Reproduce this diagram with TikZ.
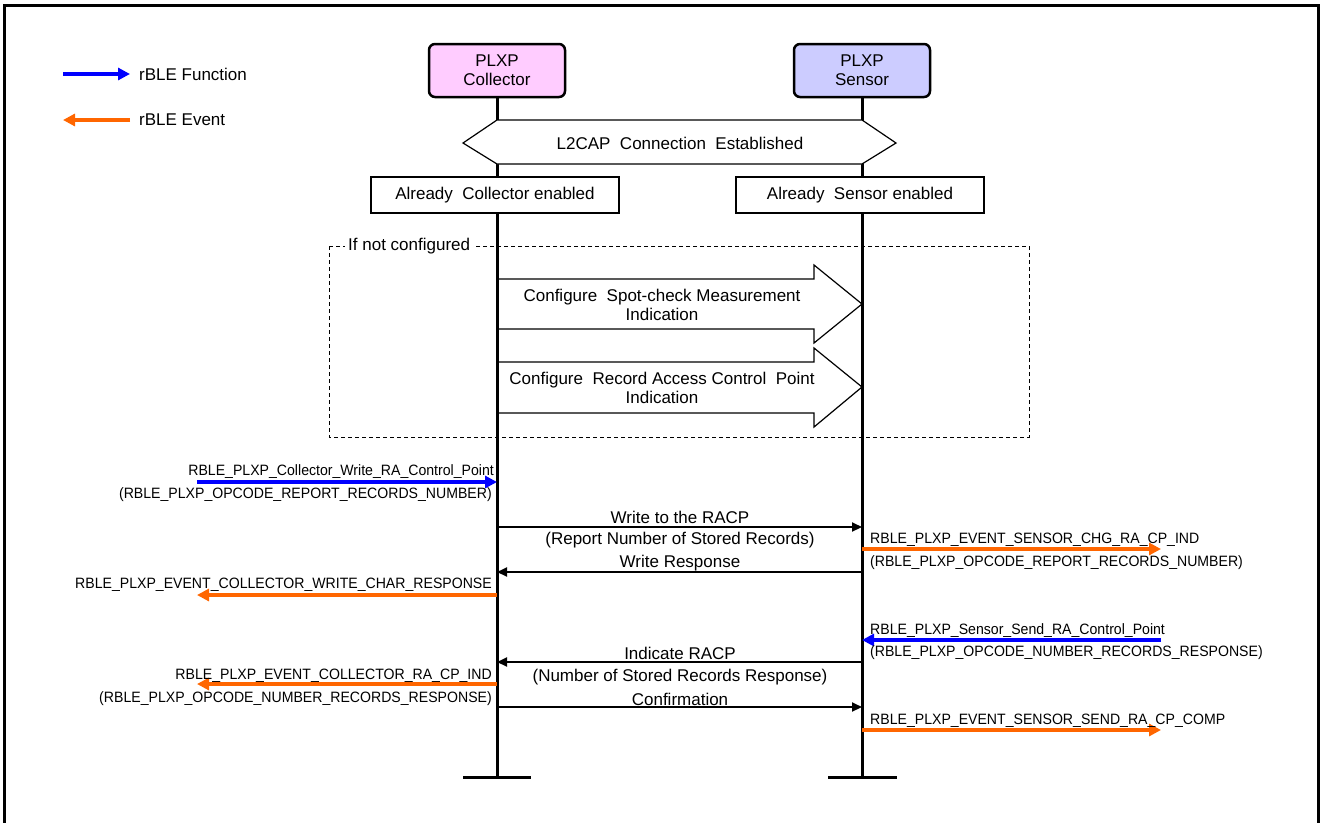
\documentclass[tikz,border=0pt]{standalone}
\usepackage{fontspec}
\setmainfont{Liberation Sans}
\newfontfamily\narrowfont[FakeStretch=0.94]{Liberation Sans}
\usetikzlibrary{arrows.meta}
\definecolor{rblue}{RGB}{0,0,255}
\definecolor{rorange}{RGB}{255,102,0}
\definecolor{cpink}{RGB}{255,204,255}
\definecolor{slav}{RGB}{204,204,255}
\begin{document}
\begin{tikzpicture}[x=1pt,y=-1pt,
  bigfont/.style={font=\fontsize{17pt}{19pt}\selectfont},
  smallfont/.style={font=\narrowfont\fontsize{15pt}{17pt}\selectfont},
  part/.style={draw, line width=2.5pt, rounded corners=6pt, minimum width=136pt, minimum height=53pt, align=center, bigfont, inner sep=0pt},
  statebox/.style={draw, line width=1.2pt, fill=white, minimum width=248pt, minimum height=36pt, bigfont, inner sep=0pt},
  life/.style={line width=3pt},
  msg/.style={line width=2pt, -{Triangle[length=10pt,width=9pt]}},
  fnarrow/.style={draw=rblue, line width=4pt, -{Triangle[length=12pt,width=12pt]}},
  evarrow/.style={draw=rorange, line width=4pt, -{Triangle[length=12pt,width=12pt]}},
  bigarrow/.style={draw, line width=1.2pt, fill=white},
  lbl/.style={smallfont, inner sep=0pt},
  mlbl/.style={bigfont, inner sep=0pt}
]
\useasboundingbox (0,0) rectangle (1321,822);
% frame
\draw[line width=3pt] (4,830) -- (4,5) -- (1318,5) -- (1318,830);

% legend
\coordinate (lfa) at (63,74); \coordinate (lfb) at (130,74);
\draw[fnarrow] (lfa) -- (lfb);
\node[mlbl, anchor=west] (lfn) at (139,74) {rBLE Function};
\coordinate (lea) at (130,120); \coordinate (leb) at (63,120);
\draw[evarrow] (lea) -- (leb);
\node[mlbl, anchor=west] (lev) at (139,120) {rBLE Event};

% participants
\node[part, fill=cpink] (col) at (497,70.5) {PLXP\\Collector};
\node[part, fill=slav] (sen) at (862,70.5) {PLXP\\Sensor};
\coordinate (colend) at (497,777);
\coordinate (senend) at (862,777);

% dashed group
\draw[line width=1pt, dash pattern=on 4pt off 3pt] (329,246) rectangle (1029,437);

% big arrows
\draw[bigarrow] (497,279) -- (814,279) -- (814,265) -- (862,304) -- (814,343) -- (814,329) -- (497,329) -- cycle;
\draw[bigarrow] (497,362) -- (814,362) -- (814,348) -- (862,387) -- (814,427) -- (814,413) -- (497,413) -- cycle;

% lifelines
\draw[life] (col.south) -- (colend);
\draw[life] (sen.south) -- (senend);
\draw[life] (463,777) -- (531,777);
\draw[life] (828,777) -- (897,777);

% group label
\node[mlbl, anchor=west, fill=white, inner xsep=3pt, inner ysep=1pt] (ifnc) at (345,246) {If not configured};

% big arrow texts
\node[mlbl, align=center] (ba1) at (662,304.5) {Configure\ \ Spot-check Measurement\\Indication};
\node[mlbl, align=center] (ba2) at (662,388) {Configure\ \ Record Access Control\ \ Point\\Indication};

% L2CAP hexagon
\draw[line width=1.2pt, fill=white] (497,120) -- (862,120) -- (896,143) -- (862,164) -- (497,164) -- (463,143) -- cycle;
\node[mlbl] (l2) at (680,143) {L2CAP\ \ Connection\ \ Established};

% state boxes
\node[statebox] (cst) at (495,195) {Already\ \ Collector enabled};
\node[statebox] (sst) at (860,195) {Already\ \ Sensor enabled};

% --- messages ---
% collector function
\coordinate (f1a) at (197,482); \coordinate (f1b) at (497,482);
\draw[fnarrow] (f1a) -- (f1b);
\node[lbl, anchor=east] (f1t) at (494,472) {RBLE\_PLXP\_Collector\_Write\_RA\_Control\_Point};
\node[lbl, anchor=east] (f1u) at (492,495) {(RBLE\_PLXP\_OPCODE\_REPORT\_RECORDS\_NUMBER)};

% write to RACP
\coordinate (m1a) at (497,527); \coordinate (m1b) at (862,527);
\draw[msg] (m1a) -- (m1b);
\node[mlbl] (m1t) at (680,517) {Write to the RACP};
\node[mlbl] (m1u) at (680,540) {(Report Number of Stored Records)};
\node[mlbl] (m2t) at (680,563) {Write Response};
\coordinate (m2a) at (862,572); \coordinate (m2b) at (497,572);
\draw[msg] (m2a) -- (m2b);

% sensor event chg
\coordinate (e1a) at (862,549); \coordinate (e1b) at (1161,549);
\draw[evarrow] (e1a) -- (e1b);
\node[lbl, anchor=west] (e1t) at (870,540) {RBLE\_PLXP\_EVENT\_SENSOR\_CHG\_RA\_CP\_IND};
\node[lbl, anchor=west] (e1u) at (870,563) {(RBLE\_PLXP\_OPCODE\_REPORT\_RECORDS\_NUMBER)};

% collector write char response
\coordinate (e2a) at (497,595); \coordinate (e2b) at (197,595);
\draw[evarrow] (e2a) -- (e2b);
\node[lbl, anchor=east] (e2t) at (492,585) {RBLE\_PLXP\_EVENT\_COLLECTOR\_WRITE\_CHAR\_RESPONSE};

% sensor send function
\coordinate (f2a) at (1161,640); \coordinate (f2b) at (862,640);
\draw[fnarrow] (f2a) -- (f2b);
\node[lbl, anchor=west] (f2t) at (870,631) {RBLE\_PLXP\_Sensor\_Send\_RA\_Control\_Point};
\node[lbl, anchor=west] (f2u) at (870,653) {(RBLE\_PLXP\_OPCODE\_NUMBER\_RECORDS\_RESPONSE)};

% indicate RACP
\coordinate (m3a) at (862,662); \coordinate (m3b) at (497,662);
\draw[msg] (m3a) -- (m3b);
\node[mlbl] (m3t) at (680,653) {Indicate RACP};
\node[mlbl] (m3u) at (680,677) {(Number of Stored Records Response)};
\node[mlbl] (m4t) at (680,699) {Confirmation};
\coordinate (m4a) at (497,707); \coordinate (m4b) at (862,707);
\draw[msg] (m4a) -- (m4b);

% collector ra cp ind
\coordinate (e3a) at (497,684); \coordinate (e3b) at (197,684);
\draw[evarrow] (e3a) -- (e3b);
\node[lbl, anchor=east] (e3t) at (492,676) {RBLE\_PLXP\_EVENT\_COLLECTOR\_RA\_CP\_IND};
\node[lbl, anchor=east] (e3u) at (492,699) {(RBLE\_PLXP\_OPCODE\_NUMBER\_RECORDS\_RESPONSE)};

% sensor send comp
\coordinate (e4a) at (862,730); \coordinate (e4b) at (1161,730);
\draw[evarrow] (e4a) -- (e4b);
\node[lbl, anchor=west] (e4t) at (870,721) {RBLE\_PLXP\_EVENT\_SENSOR\_SEND\_RA\_CP\_COMP};
\end{tikzpicture}
\end{document}
